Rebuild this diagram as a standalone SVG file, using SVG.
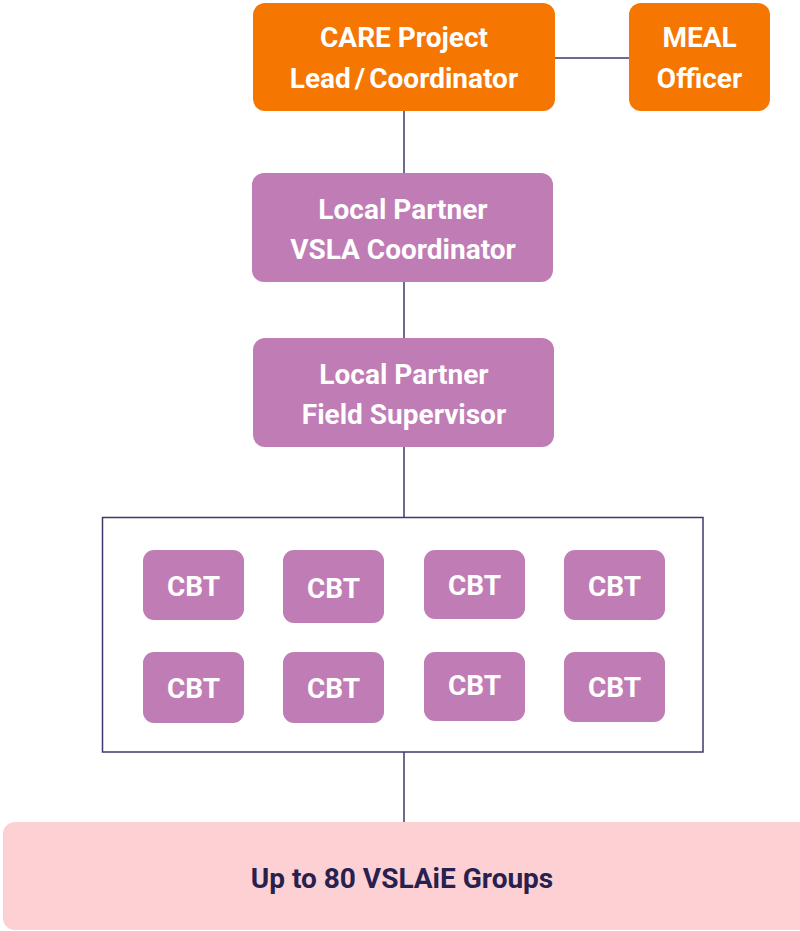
<svg xmlns="http://www.w3.org/2000/svg" width="800" height="931" viewBox="0 0 800 931">
<style>
.t{font-family:Roboto,"Liberation Sans",sans-serif;font-weight:700;fill:#ffffff;text-anchor:middle;font-size:28px}
.o{fill:#f57600}
.p{fill:#c07cb4}
.l{stroke:#3f3a6b;stroke-width:1.5;fill:none}
</style>
<rect width="800" height="931" fill="#ffffff"/>
<g id="connectors">
<line class="l" x1="555" y1="58" x2="629" y2="58"/>
<line class="l" x1="404" y1="111" x2="404" y2="173"/>
<line class="l" x1="404" y1="282" x2="404" y2="338"/>
<line class="l" x1="404" y1="447" x2="404" y2="517"/>
<line class="l" x1="404" y1="752" x2="404" y2="822"/>
</g>
<g id="care-lead">
<rect class="o" x="253" y="3" width="302" height="108" rx="12"/>
<text class="t" x="404" y="47">CARE Project</text>
<text class="t" x="404" y="88"><tspan>Lead</tspan><tspan dx="4">/</tspan><tspan dx="4">Coordinator</tspan></text>
</g>
<g id="meal">
<rect class="o" x="629" y="3" width="141" height="108" rx="12"/>
<text class="t" x="699.5" y="47">MEAL</text>
<text class="t" x="699.5" y="88">Officer</text>
</g>
<g id="vsla-coordinator">
<rect class="p" x="252" y="173" width="301" height="109" rx="12"/>
<text class="t" x="403" y="219">Local Partner</text>
<text class="t" x="403" y="259">VSLA Coordinator</text>
</g>
<g id="field-supervisor">
<rect class="p" x="253" y="338" width="301" height="109" rx="12"/>
<text class="t" x="404" y="384">Local Partner</text>
<text class="t" x="404" y="424">Field Supervisor</text>
</g>
<g id="cbt-container">
<rect x="102.5" y="517.5" width="600.5" height="234.5" fill="none" stroke="#3f3a6b" stroke-width="1.5"/>
</g>
<g id="cbt1"><rect class="p" x="143" y="550" width="101" height="70" rx="11"/><text class="t" x="193.5" y="596">CBT</text></g>
<g id="cbt2"><rect class="p" x="283" y="550" width="101" height="73" rx="11"/><text class="t" x="333.5" y="598">CBT</text></g>
<g id="cbt3"><rect class="p" x="424" y="550" width="101" height="69" rx="11"/><text class="t" x="474.5" y="595">CBT</text></g>
<g id="cbt4"><rect class="p" x="564" y="550" width="101" height="70" rx="11"/><text class="t" x="614.5" y="596">CBT</text></g>
<g id="cbt5"><rect class="p" x="143" y="652" width="101" height="71" rx="11"/><text class="t" x="193.5" y="698">CBT</text></g>
<g id="cbt6"><rect class="p" x="283" y="652" width="101" height="71" rx="11"/><text class="t" x="333.5" y="698">CBT</text></g>
<g id="cbt7"><rect class="p" x="424" y="652" width="101" height="69" rx="11"/><text class="t" x="474.5" y="695">CBT</text></g>
<g id="cbt8"><rect class="p" x="564" y="652" width="101" height="70" rx="11"/><text class="t" x="614.5" y="697">CBT</text></g>
<g id="vslaie-groups">
<rect x="3" y="822" width="810" height="108" rx="12" fill="#fdd0d3"/>
<text class="t" x="402" y="888" style="fill:#27214f">Up to 80 VSLAiE Groups</text>
</g>
</svg>
